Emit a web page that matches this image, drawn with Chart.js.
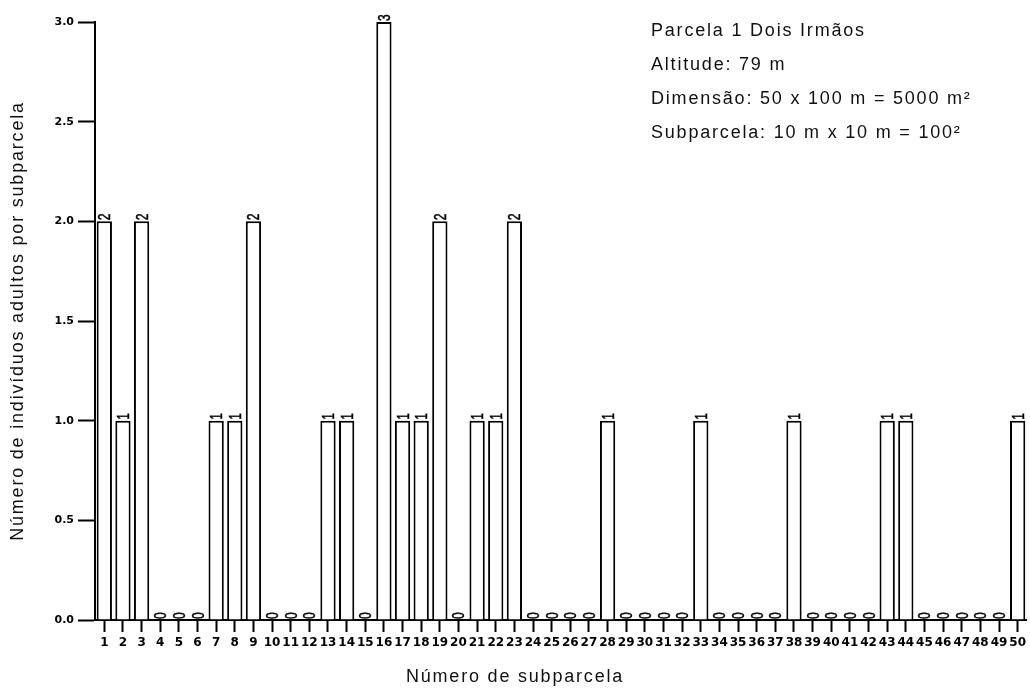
<!DOCTYPE html>
<html>
<head>
<meta charset="utf-8">
<script src="https://cdn.jsdelivr.net/npm/chart.js@4.4.1/dist/chart.umd.min.js"></script>
<style>
  html, body { margin: 0; padding: 0; background: #fff; }
  #wrap { width: 1030px; height: 689px; position: relative; }
</style>
</head>
<body>
<div id="wrap"><canvas id="chartSubparcelas"></canvas></div>
<script>
// ── Data ─────────────────────────────────────────────────────
const subparcelas = [
  '1', '2', '3', '4', '5', '6', '7', '8', '9', '10',
  '11', '12', '13', '14', '15', '16', '17', '18', '19', '20',
  '21', '22', '23', '24', '25', '26', '27', '28', '29', '30',
  '31', '32', '33', '34', '35', '36', '37', '38', '39', '40',
  '41', '42', '43', '44', '45', '46', '47', '48', '49', '50'
];
const adultos = [
  2, 1, 2, 0, 0, 0, 1, 1, 2, 0,
  0, 0, 1, 1, 0, 3, 1, 1, 2, 0,
  1, 1, 2, 0, 0, 0, 0, 1, 0, 0,
  0, 0, 1, 0, 0, 0, 0, 1, 0, 0,
  0, 0, 1, 1, 0, 0, 0, 0, 0, 1
];
const yTicks = [0, 0.5, 1.0, 1.5, 2.0, 2.5, 3.0];
const infoLines = [
  'Parcela 1 Dois Irmãos',
  'Altitude: 79 m',
  'Dimensão: 50 x 100 m = 5000 m²',
  'Subparcela: 10 m x 10 m = 100²'
];
const xTitle = 'Número de subparcela';
const yTitle = 'Número de indivíduos adultos por subparcela';

const TICK_FONT = { family: "'DejaVu Sans', sans-serif", weight: 'bold', size: 12 };

// ── Value labels, rotated, above each bar ────────────────────
const valueLabels = {
  id: 'valueLabels',
  afterDatasetsDraw(chart) {
    const ctx = chart.ctx;
    const meta = chart.getDatasetMeta(0);
    ctx.save();
    ctx.font = "16px 'Liberation Sans', Arial, sans-serif";
    ctx.fillStyle = '#000';
    ctx.strokeStyle = '#000';
    ctx.lineWidth = 0.5;
    ctx.textAlign = 'left';
    ctx.textBaseline = 'alphabetic';
    meta.data.forEach((bar, i) => {
      ctx.save();
      ctx.translate(bar.x + 6, bar.y - 1);
      ctx.rotate(-Math.PI / 2);
      ctx.scale(0.75, 1);
      ctx.fillText(String(adultos[i]), 0, 0);
      ctx.strokeText(String(adultos[i]), 0, 0);
      ctx.restore();
    });
    ctx.restore();
  }
};

// ── Axis titles and plot info ────────────────────────────────
const textPlugin = {
  id: 'texts',
  afterDraw(chart) {
    const ctx = chart.ctx;
    ctx.save();
    ctx.fillStyle = '#111';
    ctx.font = "18px 'Liberation Sans', Arial, sans-serif";
    ctx.letterSpacing = '1.8px';
    ctx.textBaseline = 'alphabetic';
    ctx.textAlign = 'left';
    infoLines.forEach((t, i) => ctx.fillText(t, 651, 36 + i * 34));
    ctx.textAlign = 'center';
    ctx.fillText(xTitle, 515, 682);
    ctx.translate(23, 321);
    ctx.rotate(-Math.PI / 2);
    ctx.fillText(yTitle, 0, 0);
    ctx.restore();
  }
};

new Chart(document.getElementById('chartSubparcelas'), {
  type: 'bar',
  data: {
    labels: subparcelas,
    datasets: [{
      data: adultos,
      backgroundColor: '#fff',
      borderColor: '#000',
      borderWidth: 2,
      barPercentage: 0.82,
      categoryPercentage: 1.0,
    }]
  },
  options: {
    responsive: true, maintainAspectRatio: false,
    animation: false,
    layout: { padding: { top: 22, left: 0, right: 0, bottom: 0 } },
    plugins: {
      legend: { display: false },
      tooltip: { enabled: false }
    },
    scales: {
      x: {
        offset: true,
        grid: { drawOnChartArea: false, drawTicks: true, tickLength: 12, tickWidth: 2, tickColor: '#000', offset: false },
        border: { display: true, color: '#000', width: 2 },
        ticks: { autoSkip: false, maxRotation: 0, minRotation: 0, padding: 4, color: '#000', font: TICK_FONT },
        afterFit: s => { s.height = 69; }
      },
      y: {
        min: 0, max: 3,
        grid: { drawOnChartArea: false, drawTicks: true, tickLength: 17, tickWidth: 2, tickColor: '#000' },
        border: { display: true, color: '#000', width: 2 },
        afterBuildTicks: s => { s.ticks = yTicks.map(v => ({ value: v })); },
        ticks: { padding: 4, color: '#000', font: { ...TICK_FONT, size: 11 }, callback: v => v.toFixed(1) },
        afterFit: s => { s.width = 95; }
      }
    }
  },
  plugins: [valueLabels, textPlugin]
});
</script>
</body>
</html>
